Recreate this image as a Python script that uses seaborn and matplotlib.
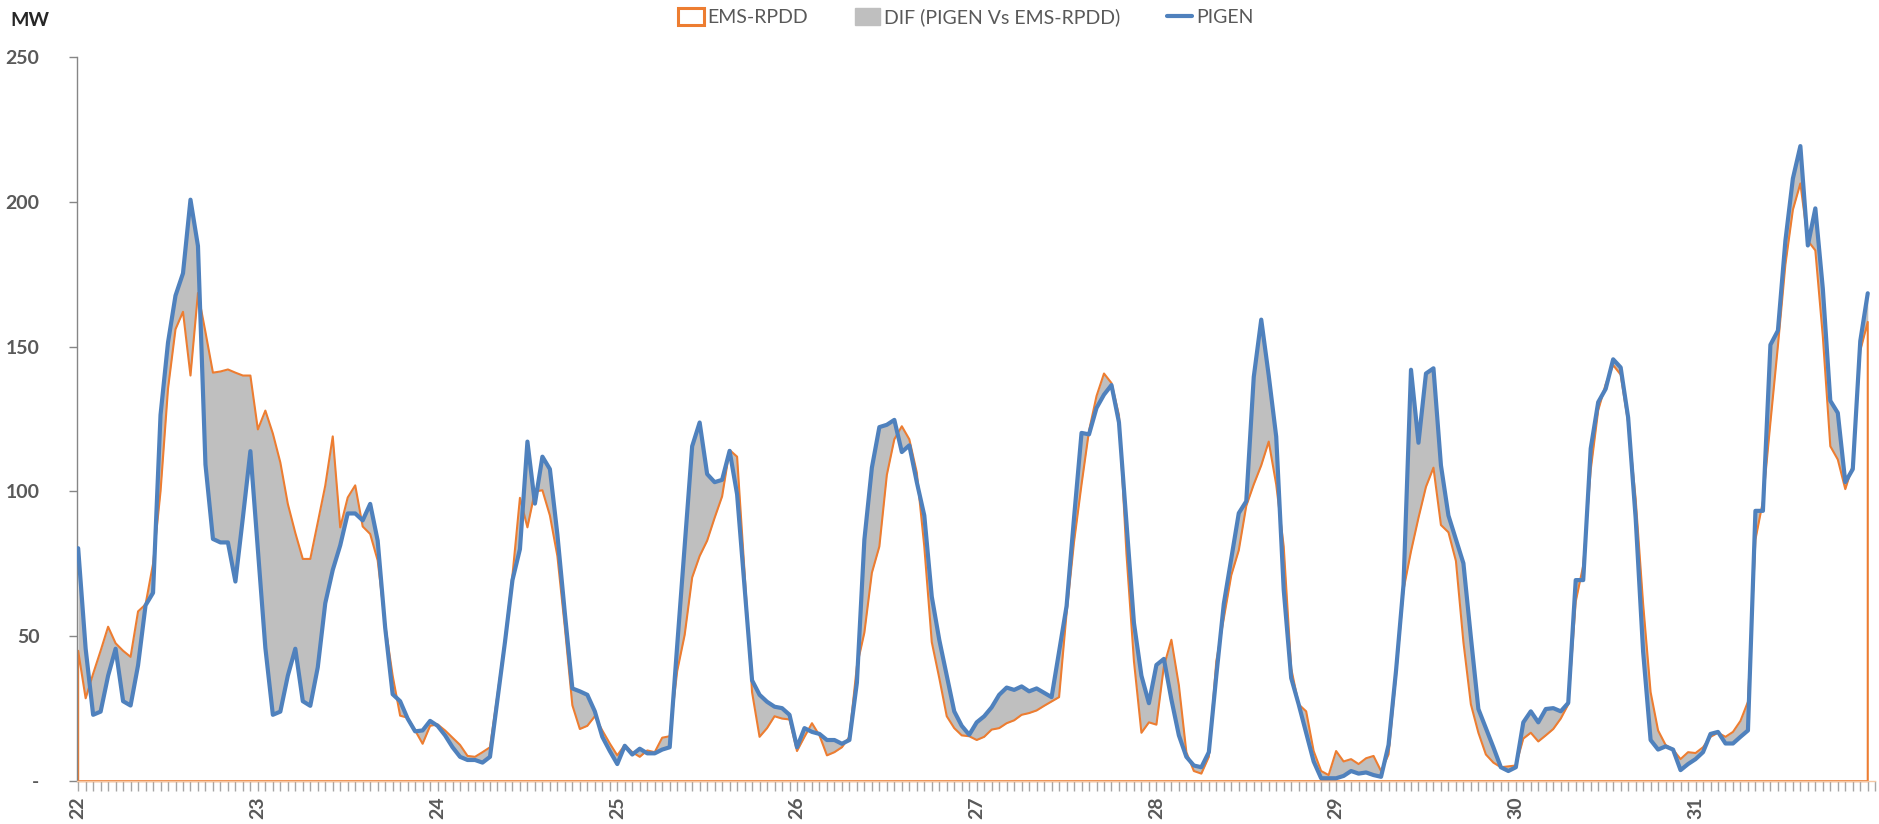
import numpy as np
import pandas as pd
import matplotlib
matplotlib.use("Agg")
import matplotlib.pyplot as plt
from matplotlib.patches import Patch
from matplotlib.lines import Line2D
import seaborn as sns

# ---------------- data (hourly values, days 22..31) ----------------
days = [22, 23, 24, 25, 26, 27, 28, 29, 30, 31]
y_ticks = [0, 50, 100, 150, 200, 250]
y_tick_labels = ["-", "50", "100", "150", "200", "250"]

pigen = [
    80.4, 45.7, 22.9, 24, 36.4, 45.7, 27.6, 26.1, 40, 60.7, 65, 126.4, 151.4, 167.6, 175.3, 200.7, 184.7, 109.3, 83.6, 82.4, 82.4, 68.9, 91, 113.9,
    80, 46, 22.9, 24, 36.4, 45.7, 27.6, 26, 39.3, 61.4, 72.9, 81.4, 92.4, 92.4, 90, 95.7, 83, 53, 30, 27.6, 21.6, 17.2, 17.5, 20.8,
    19.1, 15.8, 11.7, 8.4, 7.3, 7.3, 6.4, 8.4, 28.2, 48, 69.4, 80.1, 117.2, 95.8, 112, 107.7, 85.1, 57.9, 32, 31, 29.8, 24.1, 15.3, 10.4,
    5.9, 12.2, 9.2, 11.2, 9.6, 9.6, 10.9, 11.7, 46.8, 81, 115.6, 123.8, 106, 103.2, 104, 114, 99, 67, 34.8, 29.8, 27.4, 25.7, 25.2, 22.9,
    11.7, 18.3, 17, 16.3, 14.2, 14.2, 12.9, 14.2, 34, 83.4, 108.2, 122.2, 123, 124.7, 113.6, 115.9, 103.2, 91.7, 63.7, 48.8, 36.4, 24.1, 19.1, 16,
    20.3, 22.4, 25.5, 29.8, 32.3, 31.5, 32.7, 31, 32, 30.5, 29, 44.7, 60.4, 90.9, 120.2, 119.7, 128.8, 133.4, 136.7, 123.8, 89.2, 54.6, 36.4, 26.9,
    40.1, 42.2, 28.2, 15.8, 8.4, 5.4, 4.8, 10, 36.4, 61.2, 76.8, 92.5, 96.6, 139.5, 159.3, 140, 118.9, 66.1, 35.6, 26.5, 16.7, 6.8, 1, 1,
    1, 1.8, 3.5, 2.6, 3, 2.1, 1.5, 12.5, 38.1, 67.8, 142, 116.8, 140.7, 142.5, 109, 91.7, 83.4, 75.2, 49.6, 24.9, 18.3, 11.7, 4.8, 3.5,
    4.8, 20.3, 24.1, 20.3, 24.9, 25.2, 24.1, 27, 69.4, 69.4, 114.8, 130.8, 135.4, 145.6, 142.8, 125.5, 90.9, 44.7, 14.2, 10.9, 12, 10.9, 3.8, 5.9,
    7.6, 10, 16.3, 17, 13, 13, 15.3, 17.5, 93.3, 93.3, 150.6, 155.5, 186.5, 208, 219.2, 184.9, 197.7, 170, 131.3, 127.1, 103.2, 107.7, 151.9, 168.4,
]

ems_rpdd = [
    45, 28.6, 37.1, 45, 53.3, 47.6, 45, 42.9, 58.6, 61, 75, 100, 135.5, 156, 162, 140, 168.5, 155, 141, 141.4, 142.1, 141, 140, 140,
    121.4, 127.9, 120, 110, 95.7, 85.7, 76.7, 76.7, 89.3, 102, 119, 87.6, 97.9, 102.1, 87.9, 85.3, 76.2, 54, 36.4, 22.6, 21.9, 17.5, 12.9, 19.1,
    19.6, 17.5, 15, 12.5, 8.7, 8.4, 10, 11.7, 29.8, 48.8, 71, 97.8, 87.6, 100, 100.4, 91.7, 77.7, 53, 26.2, 18, 19.1, 22.4, 17.5, 13,
    8.9, 12.5, 10, 8.4, 10.6, 10, 15, 15.5, 38, 50.5, 70.3, 77.7, 83, 90.9, 98.3, 114.3, 112, 72, 30.7, 15.3, 18.3, 22.4, 21.6, 21.3,
    10.4, 15.3, 20, 15.8, 8.9, 10, 11.7, 15.3, 39.7, 51.3, 71.9, 81, 105.7, 118, 122.5, 118, 106.5, 81, 48, 35.6, 22.4, 18.3, 15.8, 15.5,
    14.2, 15.3, 17.8, 18.3, 20, 21, 22.9, 23.5, 24.4, 26, 27.5, 29, 57.9, 82.6, 102.4, 120.9, 132.9, 140.7, 137.4, 126.3, 78.5, 41.4, 16.7, 20.3,
    19.5, 39.7, 48.8, 33.1, 10, 3.5, 2.6, 8.4, 41.4, 56.2, 71.1, 79.7, 95, 102.4, 109, 117.2, 102.4, 81, 38.9, 26.5, 24.1, 10.4, 3.5, 2.1,
    10.4, 6.8, 7.6, 5.9, 7.9, 8.7, 3.5, 9.2, 36.4, 66.1, 79.3, 90.9, 101.6, 108.2, 88.4, 85.9, 76, 48, 26.5, 16.7, 9.2, 6.4, 4.8, 5.1,
    5.4, 14.7, 16.7, 13.7, 15.8, 18, 21.6, 26.5, 62, 74.4, 107.4, 128, 137, 143.6, 140.3, 123.8, 97.5, 61.2, 30.7, 17.5, 12.5, 10.9, 7.6, 10,
    9.7, 11.7, 15.3, 16.7, 15.3, 17, 20.8, 27.4, 83.4, 96.6, 123.8, 150.2, 178.3, 197.2, 206.3, 186.5, 183.2, 153.5, 115.6, 111, 100.8, 109, 148.6, 158.5,
]

series_labels = ["EMS-RPDD", "DIF (PIGEN Vs EMS-RPDD)", "PIGEN"]

# ---------------- styling ----------------
sns.set_theme(style="white")
plt.rcParams["font.family"] = ["Lato", "DejaVu Sans"]

ORANGE = "#ED7D31"
BLUE = "#4F81BD"
GREY_FILL = "#BFBFBF"
TXT = "#595959"
AX = "#868686"

hours = np.arange(len(pigen))
df = pd.DataFrame({"hour": hours, "PIGEN": pigen, "EMS": ems_rpdd})

fig, ax = plt.subplots(figsize=(18.79, 8.24), dpi=100)
fig.subplots_adjust(left=0.041, right=0.998, top=0.931, bottom=0.052)

# difference band
ax.fill_between(df["hour"], df["EMS"], df["PIGEN"], color=GREY_FILL, lw=0, zorder=1)
# EMS-RPDD area outline (no fill)
ax.fill_between(df["hour"], 0, df["EMS"], facecolor="none", edgecolor=ORANGE,
                lw=1.5, zorder=2, clip_on=False)
# PIGEN line
sns.lineplot(data=df, x="hour", y="PIGEN", color=BLUE, lw=3.0, ax=ax, zorder=3)

ax.set_xlim(-0.15, len(pigen) - 1 + 0.05)
ax.set_ylim(0, 250)
ax.set_xlabel("")
ax.set_ylabel("")

for s in ["top", "right"]:
    ax.spines[s].set_visible(False)
ax.spines["left"].set_color(AX)
ax.spines["left"].set_linewidth(1.0)
ax.spines["bottom"].set_color("#F4C7A5")
ax.spines["bottom"].set_linewidth(1.0)

ax.set_xticks(np.arange(0, len(pigen), 24))
ax.set_xticklabels([str(d) for d in days], rotation=90, fontweight="bold",
                   color=TXT, fontsize=14)
ax.set_xticks(np.arange(0, len(pigen) + 1), minor=True)
ax.tick_params(axis="x", which="both", bottom=True, direction="out",
               length=7, width=1.0, color="#A6A6A6", pad=4)

ax.set_yticks(y_ticks)
ax.set_yticklabels(y_tick_labels, fontweight="bold", color=TXT, fontsize=14)
ax.tick_params(axis="y", left=True, direction="out", length=6, width=1.0,
               color=AX, pad=21)

fig.text(10 / 1879, 1 - 20 / 824, "MW", ha="left", va="center",
         fontsize=14, fontweight="bold", color="#262626")

handles = [
    Patch(facecolor="white", edgecolor=ORANGE, linewidth=2.2),
    Patch(facecolor=GREY_FILL, edgecolor=GREY_FILL),
    Line2D([0], [0], color=BLUE, lw=3),
]
fig.legend(handles, series_labels, loc="center", bbox_to_anchor=(0.514, 0.979),
           ncol=3, frameon=False, fontsize=14, handlelength=1.3,
           handleheight=0.9, handletextpad=0.2, columnspacing=2.4,
           labelcolor=TXT)

fig.savefig("out.png", dpi=100)
